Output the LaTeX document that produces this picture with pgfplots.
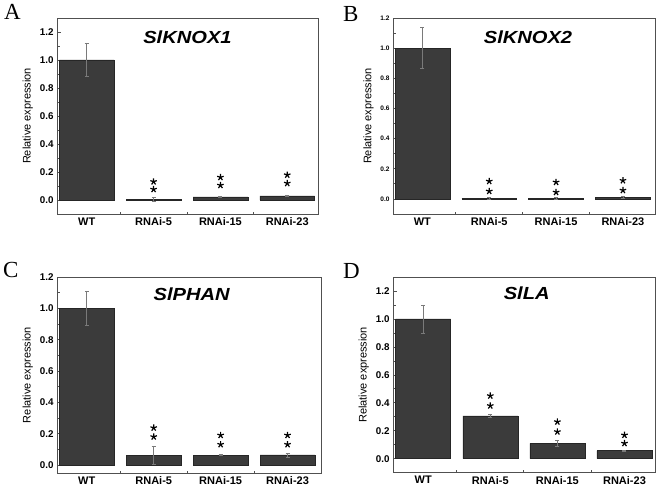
\documentclass[border=0pt]{standalone}
\usepackage{fontspec}
\setmainfont{Liberation Sans}
\newfontfamily\panelfont{Liberation Serif}
\usepackage{pgfplots}
\pgfplotsset{compat=1.18}

\definecolor{barfill}{HTML}{3B3B3B}
\definecolor{axgray}{HTML}{505050}
\definecolor{errgray}{HTML}{7A7A7A}

\pgfplotsset{
  panel/.style={
    scale only axis,
    axis line style={axgray,line width=0.9pt},
    tick align=inside,ytick pos=left,xtick pos=bottom,
    xtick={1,2,3,4},xticklabels={WT,RNAi-5,RNAi-15,RNAi-23},
    minor xtick={1.5,2.5,3.5},
    major x tick style={draw=none},
    minor x tick style={axgray,line width=0.8pt},
    ytick={0,0.2,0.4,0.6,0.8,1.0,1.2},minor y tick num=1,
    major tick length=4pt,minor tick length=2.5pt,
    y tick style={axgray,line width=0.7pt},
    /pgf/number format/assume math mode=true,
    yticklabel style={/pgf/number format/fixed,/pgf/number format/fixed zerofill,
      /pgf/number format/precision=1,font=\bfseries\fontsize{9.8}{10}\selectfont},
    xticklabel style={font=\bfseries\fontsize{11}{12}\selectfont},
    ylabel={Relative expression},
    ylabel style={font=\fontsize{11}{12}\selectfont},
  },
  bars/.style={ybar,bar width=0.82,fill=barfill,draw=black!85,line width=0.5pt,
    error bars/.cd,y dir=both,y explicit,
    error bar style={errgray,line width=0.7pt},
    error mark options={errgray,rotate=90,mark size=2pt,line width=0.7pt}},
  stars/.style={only marks,mark=star,mark size=3.4pt,mark options={black,line width=1.2pt}},
}

\begin{document}
\begin{tikzpicture}
\useasboundingbox (0,0) rectangle (660pt,-489pt);

% A
\begin{axis}[panel,at={(57pt,-214pt)},anchor=south west,width=261pt,height=196pt,
  xmin=0.555,xmax=4.46,ymin=-0.1,ymax=1.3]
\addplot[bars] coordinates {(1,1.0) +- (0,0.12) (2,0.005) +- (0,0.012) (3,0.022) +- (0,0.002) (4,0.03) +- (0,0.003)};
\addplot[stars] coordinates {(2,0.076) (2,0.131) (3,0.105) (3,0.162) (4,0.119) (4,0.179)};
\node[font=\bfseries\itshape\fontsize{17.5}{18}\selectfont,inner sep=0pt] at (rel axis cs:0.5,1) [yshift=-19.5pt] {\scalebox{1.15}[1]{SlKNOX1}};
\end{axis}

% B
\begin{axis}[panel,at={(393pt,-214pt)},anchor=south west,width=262pt,height=196pt,
  xmin=0.56,xmax=4.48,ymin=-0.1,ymax=1.2,
  yticklabel style={font=\bfseries\fontsize{6.5}{7}\selectfont}]
\addplot[bars] coordinates {(1,1.0) +- (0,0.135) (2,0.002) +- (0,0.006) (3,0.002) +- (0,0.006) (4,0.01) +- (0,0.006)};
\addplot[stars] coordinates {(2,0.051) (2,0.117) (3,0.044) (3,0.111) (4,0.057) (4,0.122)};
\node[font=\bfseries\itshape\fontsize{17.5}{18}\selectfont,inner sep=0pt] at (rel axis cs:0.5,1) [yshift=-19.5pt,xshift=4pt] {\scalebox{1.15}[1]{SlKNOX2}};
\end{axis}

% C
\begin{axis}[panel,at={(57pt,-473pt)},anchor=south west,width=264pt,height=196pt,
  xmin=0.555,xmax=4.5,ymin=-0.05,ymax=1.2]
\addplot[bars] coordinates {(1,1.0) +- (0,0.11) (2,0.062) +- (0,0.055) (3,0.063) +- (0,0.003) (4,0.065) +- (0,0.012)};
\addplot[stars] coordinates {(2,0.181) (2,0.238) (3,0.132) (3,0.191) (4,0.132) (4,0.191)};
\node[font=\bfseries\itshape\fontsize{17.5}{18}\selectfont,inner sep=0pt] at (rel axis cs:0.5,1) [yshift=-17pt,xshift=2.7pt] {\scalebox{1.15}[1]{SlPHAN}};
\end{axis}

% D
\begin{axis}[panel,at={(393pt,-472.7pt)},anchor=south west,width=262pt,height=195.7pt,
  xmin=0.55,xmax=4.455,ymin=-0.1,ymax=1.3]
\addplot[bars] coordinates {(1,1.0) +- (0,0.1) (2,0.307) +- (0,0.013) (3,0.11) +- (0,0.02) (4,0.058) +- (0,0.003)};
\addplot[stars] coordinates {(2,0.379) (2,0.45) (3,0.193) (3,0.264) (4,0.110) (4,0.169)};
\node[font=\bfseries\itshape\fontsize{17.5}{18}\selectfont,inner sep=0pt] at (rel axis cs:0.5,1) [yshift=-16.3pt,xshift=2.7pt] {\scalebox{1.15}[1]{SlLA}};
\end{axis}

\node[font=\panelfont\fontsize{23}{24}\selectfont,anchor=base west,inner sep=0pt] at (4pt,-20pt) {A};
\node[font=\panelfont\fontsize{23}{24}\selectfont,anchor=base west,inner sep=0pt] at (343pt,-22pt) {B};
\node[font=\panelfont\fontsize{23}{24}\selectfont,anchor=base west,inner sep=0pt] at (3pt,-277pt) {C};
\node[font=\panelfont\fontsize{23}{24}\selectfont,anchor=base west,inner sep=0pt] at (343pt,-278pt) {D};
\end{tikzpicture}
\end{document}
